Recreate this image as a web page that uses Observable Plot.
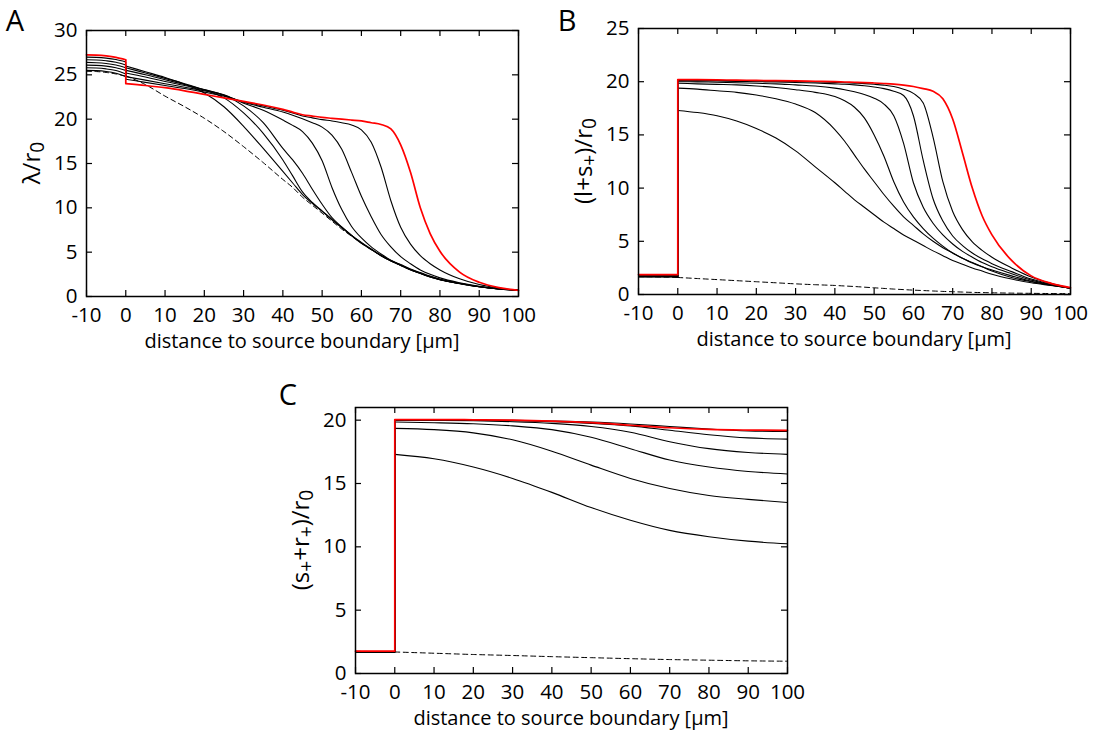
<!DOCTYPE html>
<html><head><meta charset="utf-8">
<script src="https://cdn.jsdelivr.net/npm/d3@7"></script>
<script src="https://cdn.jsdelivr.net/npm/@observablehq/plot@0.6"></script>
<style>
body{margin:0;background:#fff;}
#fig{position:relative;width:1096px;height:733px;overflow:hidden;background:#fff;}
#fig svg{position:absolute;overflow:visible;}
</style></head><body><div id="fig"></div>
<script>
// ---------- shared axes ----------
const xTicks = [-10,0,10,20,30,40,50,60,70,80,90,100];
const xLeft = [-10,-7.5,-5,-2.5,0];
const xRightAB = [0,5,10,15,20,25,30,35,40,42.5,45,47.5,50,52.5,55,57.5,60,62.5,65,67.5,70,72.5,75,77.5,80,85,90,95,100];
const xRightC = [0,10,20,30,40,50,60,70,80,90,100];
const yTicksA = [0,5,10,15,20,25,30];
const yTicksB = [0,5,10,15,20,25];
const yTicksC = [0,5,10,15,20];

// ---------- panel A : lambda / r0 ----------
const aRedL  = [27.25,27.22,27.13,26.97,26.7];
const aB6L   = [27.0,26.97,26.88,26.72,26.45];
const aB5L   = [26.7,26.67,26.58,26.42,26.1];
const aB4L   = [26.4,26.37,26.28,26.1,25.8];
const aB3L   = [26.1,26.07,25.98,25.8,25.5];
const aB2L   = [25.8,25.77,25.67,25.48,25.1];
const aB1L   = [25.5,25.47,25.37,25.17,24.8];
const aDashL = [25.4,25.37,25.27,25.1,24.85];
const aRed  = [24.0,23.8,23.55,23.2,22.8,22.4,22.0,21.6,21.1,20.8,20.5,20.35,20.2,20.1,20.0,19.9,19.8,19.6,19.4,18.9,17.1,14.0,10.0,7.1,5.1,2.75,1.6,1.0,0.7];
const aB6   = [24.5,24.15,23.8,23.45,23.05,22.6,21.95,21.5,21.0,20.7,20.35,20.15,19.95,19.8,19.6,19.35,18.8,17.4,14.6,10.8,7.8,5.9,4.6,3.7,3.0,2.0,1.35,0.95,0.7];
const aB5   = [24.8,24.4,24.0,23.6,23.2,22.7,21.9,21.35,20.8,20.45,20.05,19.6,19.1,18.2,16.6,14.0,11.3,9.0,7.0,5.6,4.5,3.7,3.0,2.5,2.1,1.55,1.15,0.88,0.7];
const aB4   = [25.2,24.75,24.25,23.8,23.3,22.75,21.8,21.0,19.9,19.3,18.6,17.3,15.3,12.3,9.8,7.9,6.6,5.6,4.8,4.1,3.6,3.1,2.7,2.3,1.95,1.5,1.12,0.86,0.7];
const aB3   = [25.5,25.0,24.45,23.9,23.35,22.7,21.5,19.6,16.7,15.4,13.9,12.1,10.4,8.9,7.85,6.9,6.1,5.35,4.65,4.05,3.55,3.05,2.65,2.25,1.92,1.47,1.1,0.85,0.7];
const aB2   = [25.8,25.2,24.6,24.0,23.3,22.4,20.7,18.4,15.4,13.6,11.8,10.6,9.65,8.7,7.8,6.9,6.05,5.3,4.6,4.02,3.52,3.02,2.62,2.22,1.9,1.46,1.1,0.85,0.7];
const aB1   = [26.0,25.35,24.7,23.95,22.95,21.4,19.2,16.7,14.1,12.8,11.5,10.5,9.6,8.65,7.75,6.85,6.0,5.3,4.6,4.0,3.5,3.0,2.6,2.2,1.9,1.45,1.1,0.85,0.7];
const aDash = [24.9,23.9,22.6,21.4,20.1,18.6,16.9,15.1,13.2,12.3,11.2,10.3,9.4,8.5,7.6,6.8,6.0,5.3,4.6,4.0,3.5,3.0,2.6,2.2,1.9,1.45,1.1,0.85,0.7];

// ---------- panel B : (l+s+)/r0 ----------
const bRedL  = [1.87,1.87,1.87,1.87,1.87];
const bB6L   = [1.76,1.76,1.76,1.76,1.76];
const bB5L   = [1.74,1.74,1.74,1.74,1.74];
const bB4L   = [1.72,1.72,1.72,1.72,1.72];
const bB3L   = [1.70,1.70,1.70,1.70,1.70];
const bB2L   = [1.67,1.67,1.67,1.67,1.67];
const bB1L   = [1.64,1.64,1.64,1.64,1.64];
const bDashL = [1.68,1.67,1.65,1.63,1.6];
const bRed  = [20.2,20.19,20.17,20.15,20.12,20.1,20.07,20.04,20.0,19.97,19.95,19.92,19.88,19.83,19.77,19.68,19.55,19.35,19.1,18.4,16.5,13.3,10.0,7.4,5.6,3.2,1.75,1.05,0.65];
const bB6   = [20.15,20.14,20.12,20.1,20.08,20.05,20.02,19.98,19.93,19.9,19.86,19.82,19.76,19.68,19.55,19.3,18.9,18.0,14.8,10.6,7.8,6.1,4.95,4.15,3.5,2.5,1.65,1.05,0.6];
const bB5   = [20.1,20.08,20.06,20.03,20.0,19.97,19.93,19.88,19.8,19.76,19.7,19.62,19.5,19.35,19.1,18.7,16.8,12.6,9.0,6.9,5.5,4.6,3.9,3.35,2.9,2.15,1.45,0.97,0.6];
const bB4   = [20.0,19.98,19.95,19.9,19.85,19.8,19.7,19.6,19.4,19.25,19.05,18.8,18.45,17.9,16.8,14.2,10.5,8.2,6.7,5.6,4.75,4.05,3.5,3.0,2.6,1.95,1.35,0.92,0.6];
const bB3   = [19.85,19.8,19.75,19.7,19.6,19.45,19.25,19.0,18.6,18.2,17.6,16.6,15.0,13.0,10.6,8.7,7.3,6.2,5.3,4.55,3.9,3.4,2.95,2.6,2.3,1.75,1.25,0.9,0.6];
const bB2   = [19.4,19.3,19.15,19.0,18.75,18.4,17.9,17.1,15.5,14.4,13.1,11.8,10.6,9.4,8.3,7.3,6.5,5.7,5.0,4.4,3.9,3.4,3.0,2.6,2.2,1.6,1.2,0.88,0.6];
const bB1   = [17.3,17.1,16.8,16.3,15.6,14.7,13.5,12.0,10.5,9.7,8.9,8.2,7.5,6.8,6.2,5.6,5.1,4.6,4.1,3.65,3.2,2.85,2.5,2.2,1.9,1.45,1.1,0.85,0.6];
const bDash = [1.6,1.5,1.4,1.3,1.2,1.1,1.0,0.92,0.85,0.8,0.75,0.69,0.63,0.57,0.51,0.46,0.41,0.37,0.33,0.29,0.26,0.23,0.2,0.18,0.16,0.13,0.11,0.09,0.08];

// ---------- panel C : (s+ + r+)/r0 ----------
const cRedL  = [1.76,1.76,1.76,1.76,1.76];
const cBL    = [1.70,1.70,1.70,1.70,1.70];
const cDashL = [1.75,1.74,1.73,1.72,1.7];
const cRed  = [20.05,20.05,20.03,20.0,19.92,19.8,19.6,19.4,19.27,19.22,19.2];
const cB6   = [20.0,20.0,20.0,19.98,19.93,19.85,19.7,19.5,19.3,19.15,19.1];
const cB5   = [20.0,20.0,19.98,19.95,19.88,19.75,19.55,19.2,18.85,18.6,18.5];
const cB4   = [20.0,19.98,19.95,19.88,19.75,19.5,19.05,18.3,17.75,17.45,17.3];
const cB3   = [19.85,19.8,19.72,19.55,19.25,18.65,17.75,16.85,16.3,15.95,15.75];
const cB2   = [19.35,19.25,19.0,18.45,17.55,16.45,15.4,14.6,14.05,13.75,13.5];
const cB1   = [17.3,16.95,16.3,15.4,14.3,13.1,12.1,11.3,10.8,10.45,10.24];
const cDash = [1.7,1.6,1.5,1.42,1.33,1.25,1.17,1.1,1.05,1.0,0.97];

const xTitle = "distance to source boundary [\u03bcm]";

const styles = {
  black: {stroke: "#000", strokeWidth: 1.1},
  dash:  {stroke: "#000", strokeWidth: 1, strokeDasharray: "5,3.5"},
  red:   {stroke: "#ff0000", strokeWidth: 1.7}
};

function drawPanel(cfg) {
  const {left, top, width, height, ml, mr, mt, mb, yDomain, yTicks, xR, series, letter, letterPos, ylab} = cfg;
  const iw = width - ml - mr, ih = height - mt - mb;
  const rowsL = [], rowsR = [], jumps = [];
  series.forEach((s, i) => {
    xLeft.forEach((x, j) => rowsL.push({s: i, kind: s.kind, x, y: s.left[j]}));
    xR.forEach((x, j) => rowsR.push({s: i, kind: s.kind, x, y: s.right[j]}));
    jumps.push({s: i, kind: s.kind,
      x1: xLeft[xLeft.length - 1], y1: s.left[s.left.length - 1],
      x2: xR[0], y2: s.right[0]});
  });
  const lineMarks = [];
  for (const kind of ["black", "dash", "red"]) {
    const st = styles[kind];
    lineMarks.push(Plot.line(rowsL.filter(d => d.kind === kind), {x: "x", y: "y", z: "s", curve: "monotone-x", ...st}));
    lineMarks.push(Plot.link(jumps.filter(d => d.kind === kind), {x1: "x1", y1: "y1", x2: "x2", y2: "y2", ...st}));
    lineMarks.push(Plot.line(rowsR.filter(d => d.kind === kind), {x: "x", y: "y", z: "s", curve: "monotone-x", ...st}));
  }
  const svg = Plot.plot({
    width, height,
    marginLeft: ml, marginRight: mr, marginTop: mt, marginBottom: mb,
    x: {domain: [-10, 100]},
    y: {domain: yDomain},
    style: {fontFamily: '"Open Sans", sans-serif', background: "transparent", overflow: "visible", color: "#000"},
    marks: [
      ...lineMarks,
      Plot.tickX(xTicks, {x: d => d, insetTop: ih - 6, stroke: "#000", strokeWidth: 1.2}),
      Plot.tickX(xTicks, {x: d => d, insetBottom: ih - 6, stroke: "#000", strokeWidth: 1.2}),
      Plot.tickY(yTicks, {y: d => d, insetRight: iw - 6, stroke: "#000", strokeWidth: 1.2}),
      Plot.tickY(yTicks, {y: d => d, insetLeft: iw - 6, stroke: "#000", strokeWidth: 1.2}),
      Plot.axisX(xTicks, {tickSize: 0, tickPadding: 11, fontSize: 20.5, tickFormat: d => String(d), label: null}),
      Plot.axisY(yTicks, {tickSize: 0, tickPadding: 9, fontSize: 20.5, tickFormat: d => String(d), label: null}),
      Plot.frame({stroke: "#000", strokeWidth: 1.5})
    ]
  });
  svg.style.left = left + "px";
  svg.style.top = top + "px";
  const g = d3.select(svg);
  g.append("text")
    .attr("x", ml + iw / 2).attr("y", mt + ih + 52)
    .attr("text-anchor", "middle").attr("font-size", 20).attr("fill", "#000")
    .text(xTitle);
  const t = g.append("text")
    .attr("transform", `translate(${ml - 54},${mt + ih / 2}) rotate(-90)`)
    .attr("y", 8)
    .attr("text-anchor", "middle").attr("font-size", 24).attr("fill", "#000");
  ylab.forEach(([txt, sub]) => {
    const ts = t.append("tspan").text(txt);
    if (sub) ts.attr("font-size", "80%").attr("baseline-shift", "-22%");
  });
  g.append("text")
    .attr("x", letterPos[0]).attr("y", letterPos[1])
    .attr("font-size", 29).attr("fill", "#000")
    .text(letter);
  document.getElementById("fig").appendChild(svg);
}

drawPanel({
  left: 0, top: 0, width: 540, height: 360, ml: 86, mr: 22, mt: 30, mb: 64,
  yDomain: [0, 30], yTicks: yTicksA, xR: xRightAB, letter: "A", letterPos: [15, 31],
  ylab: [["\u03bb/r", 0], ["0", 1]],
  series: [
    {kind: "black", left: aB1L, right: aB1}, {kind: "black", left: aB2L, right: aB2},
    {kind: "black", left: aB3L, right: aB3}, {kind: "black", left: aB4L, right: aB4},
    {kind: "black", left: aB5L, right: aB5}, {kind: "black", left: aB6L, right: aB6},
    {kind: "dash", left: aDashL, right: aDash}, {kind: "red", left: aRedL, right: aRed}
  ]
});
drawPanel({
  left: 548, top: 0, width: 548, height: 360, ml: 90, mr: 26, mt: 28, mb: 66,
  yDomain: [0, 25], yTicks: yTicksB, xR: xRightAB, letter: "B", letterPos: [19, 31],
  ylab: [["(l+s", 0], ["+", 1], [")/r", 0], ["0", 1]],
  series: [
    {kind: "black", left: bB1L, right: bB1}, {kind: "black", left: bB2L, right: bB2},
    {kind: "black", left: bB3L, right: bB3}, {kind: "black", left: bB4L, right: bB4},
    {kind: "black", left: bB5L, right: bB5}, {kind: "black", left: bB6L, right: bB6},
    {kind: "dash", left: bDashL, right: bDash}, {kind: "red", left: bRedL, right: bRed}
  ]
});
drawPanel({
  left: 270, top: 365, width: 540, height: 368, ml: 85, mr: 23, mt: 42, mb: 60,
  yDomain: [0, 21], yTicks: yTicksC, xR: xRightC, letter: "C", letterPos: [18, 40],
  ylab: [["(s", 0], ["+", 1], ["+r", 0], ["+", 1], [")/r", 0], ["0", 1]],
  series: [
    {kind: "black", left: cBL, right: cB1}, {kind: "black", left: cBL, right: cB2},
    {kind: "black", left: cBL, right: cB3}, {kind: "black", left: cBL, right: cB4},
    {kind: "black", left: cBL, right: cB5}, {kind: "black", left: cBL, right: cB6},
    {kind: "dash", left: cDashL, right: cDash}, {kind: "red", left: cRedL, right: cRed}
  ]
});
</script>
</body></html>
